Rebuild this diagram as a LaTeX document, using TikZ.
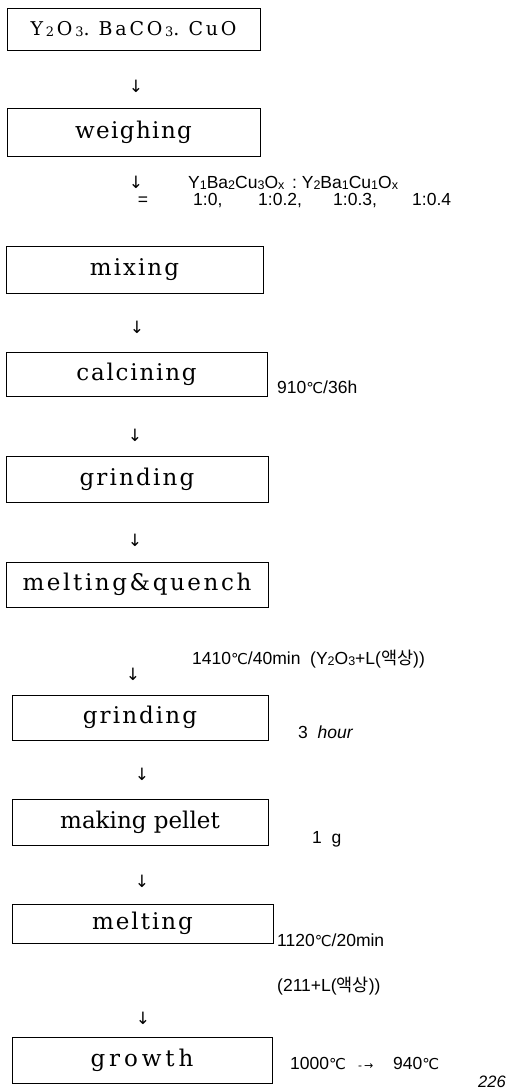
\documentclass[tikz,border=0pt]{standalone}
\usepackage{fontspec}
\newfontfamily\lab{Liberation Sans}
\newfontfamily\bxf{DejaVu Serif}
\newfontfamily\dv{DejaVu Sans}
\newfontfamily\kr{Noto Sans CJK KR}
\newcommand\dC{{\dv\fontsize{15}{15}\selectfont ℃}}
\newcommand\ls[1]{\raisebox{-1.5pt}{\fontsize{12.5}{12.5}\selectfont #1}}
\newcommand\bsub[1]{\raisebox{-0.5pt}{\fontsize{13}{13}\selectfont #1}}
\newcommand\bt[1]{\bxf\fontsize{#1}{#1}\selectfont}
\ExplSyntaxOn
\NewDocumentCommand\spc{mm}{\tl_map_inline:nn {#2}{##1\kern #1}\kern -#1}
\ExplSyntaxOff
\begin{document}
\begin{tikzpicture}[x=1pt,y=-1pt,
  box/.style={draw, line width=0.8pt, inner sep=0pt},
  lbl/.style={font=\lab\fontsize{17.5}{17.5}\selectfont, inner sep=0pt, anchor=mid west},
  arr/.style={font=\dv\fontsize{17}{17}\selectfont, inner sep=0pt}]
\useasboundingbox (0,0) rectangle (528,1092);
% boxes
\node[box, minimum width=253pt, minimum height=42pt] (b1) at (133.5,29) {\bt{19}\spc{2.8pt}{Y{\bsub{2}}O{\bsub{3}}}.\kern9pt\spc{2.8pt}{BaCO{\bsub{3}}}.\kern9pt\spc{2.8pt}{CuO}};
\node[box, minimum width=253pt, minimum height=48pt] (b2) at (133.5,132) {\bt{23}\spc{1.4pt}{weighing}};
\node[box, minimum width=257pt, minimum height=47pt] (b3) at (134.5,269.5) {\bt{23}\spc{2pt}{mixing}};
\node[box, minimum width=261pt, minimum height=44pt] (b4) at (136.5,374) {\bt{23}\spc{1.8pt}{calcining}};
\node[box, minimum width=262pt, minimum height=46pt] (b5) at (137,479) {\bt{23}\spc{2.2pt}{grinding}};
\node[box, minimum width=262pt, minimum height=45pt] (b6) at (137,584.5) {\bt{23}\spc{2.6pt}{melting\&quench}};
\node[box, minimum width=256pt, minimum height=45pt] (b7) at (140,717.5) {\bt{23}\spc{2.1pt}{grinding}};
\node[box, minimum width=256pt, minimum height=46pt] (b8) at (140,822) {\bt{23}making pellet};
\node[box, minimum width=261pt, minimum height=39pt] (b9) at (142.5,923.5) {\bt{23}\spc{2pt}{melting}};
\node[box, minimum width=260pt, minimum height=46pt] (b10) at (142,1060) {\bt{23}\spc{3.9pt}{growth}};
% arrows
\node[arr] (a1) at (136,86) {↓};
\node[arr] (a2) at (136,182) {↓};
\node[arr] (a3) at (137,327) {↓};
\node[arr] (a4) at (135,435) {↓};
\node[arr] (a5) at (135,540) {↓};
\node[arr] (a6) at (133,674) {↓};
\node[arr] (a7) at (142,774) {↓};
\node[arr] (a8) at (142,881) {↓};
\node[arr] (a9) at (143,1018) {↓};
% labels
\node[lbl] (l1) at (188,186) {Y\ls{1}Ba\ls{2}Cu\ls{3}O\ls{x}\ \,:\ Y\ls{2}Ba\ls{1}Cu\ls{1}O\ls{x}};
\node[lbl, anchor=mid] (eq) at (143,203) {=};
\node[lbl] (r1) at (193,203) {1:0,};
\node[lbl] (r2) at (258,203) {1:0.2,};
\node[lbl] (r3) at (333,203) {1:0.3,};
\node[lbl] (r4) at (412,203) {1:0.4};
\node[lbl] (t1) at (277,391) {910\dC/36h};
\node[lbl] (t2) at (192,662) {1410\dC/40min\ \ (Y\ls{2}O\ls{3}+L({\kr 액상}))};
\node[lbl] (t3) at (298,736) {3\ \ \textit{hour}};
\node[lbl] (t4) at (312,841) {1\ \ g};
\node[lbl] (t5) at (277,944) {1120\dC/20min};
\node[lbl] (t6) at (277,989) {(211+L({\kr 액상}))};
\node[lbl] (t7) at (290,1067) {1000\dC};
\node[lbl] (t8) at (358,1067) {{\dv\fontsize{11}{11}\selectfont -\,→}};
\node[lbl] (t9) at (393,1067) {940\dC};
\node[lbl, font=\lab\itshape\fontsize{16.5}{16.5}\selectfont] (pg) at (478,1085) {226};
\end{tikzpicture}
\end{document}
